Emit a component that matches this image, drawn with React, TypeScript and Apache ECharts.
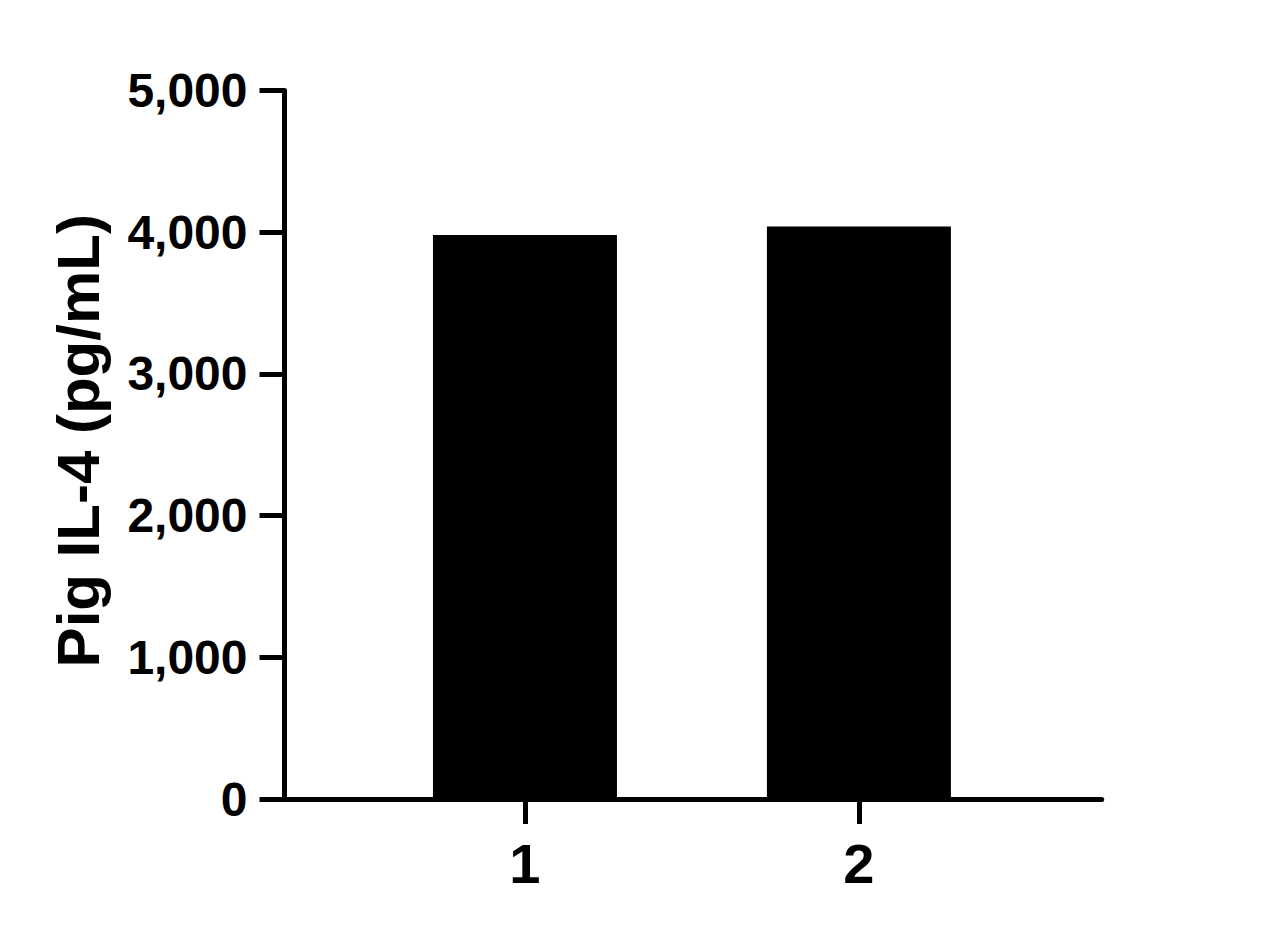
import {useEffect, useRef} from 'react';
import * as echarts from 'echarts';

const groups = [1, 2];
const values = [3980, 4040];
const yTicks = [0, 1000, 2000, 3000, 4000, 5000];
const yTitle = 'Pig IL-4 (pg/mL)';

const FONT = '"Liberation Sans", Arial, sans-serif';

export default function App() {
    const ref = useRef<HTMLDivElement | null>(null);

    useEffect(() => {
        if (!ref.current) return;
        const chart = echarts.init(ref.current, null, {renderer: 'svg'});
        chart.setOption({
            animation: false,
            backgroundColor: '#fff',
            grid: {left: 284.5, right: 178.3, top: 90.5, bottom: 135, outerBoundsMode: 'none'},
            xAxis: {
                type: 'value',
                min: 0.28,
                max: 2.727,
                splitLine: {show: false},
                axisLine: {show: true, lineStyle: {color: '#000', width: 5}},
                axisTick: {show: true, length: 25, customValues: groups, lineStyle: {color: '#000', width: 5}},
                axisLabel: {
                    customValues: groups,
                    margin: 36,
                    color: '#000',
                    fontFamily: FONT,
                    fontWeight: 'bold',
                    fontSize: 56,
                },
            },
            yAxis: {
                type: 'value',
                min: 0,
                max: 5000,
                interval: 1000,
                splitLine: {show: false},
                axisLine: {show: true, lineStyle: {color: '#000', width: 5}},
                axisTick: {show: true, length: 25, lineStyle: {color: '#000', width: 5}},
                axisLabel: {
                    margin: 37,
                    color: '#000',
                    fontFamily: FONT,
                    fontWeight: 'bold',
                    fontSize: 48,
                    formatter: (v: number) => (yTicks.includes(v) ? v.toLocaleString('en-US') : ''),
                },
                name: yTitle,
                nameLocation: 'middle',
                nameGap: 176,
                nameTextStyle: {color: '#000', fontFamily: FONT, fontWeight: 'bold', fontSize: 60, padding: [0, 0, 0, 8]},
            },
            series: [
                {
                    type: 'bar',
                    data: groups.map((g, i) => [g, values[i]]),
                    barWidth: 184,
                    itemStyle: {color: '#000'},
                },
            ],
        });
        return () => chart.dispose();
    }, []);

    return <div ref={ref} style={{position: 'fixed', left: 0, top: 0, width: 1280, height: 934, background: '#fff'}}/>;
}
